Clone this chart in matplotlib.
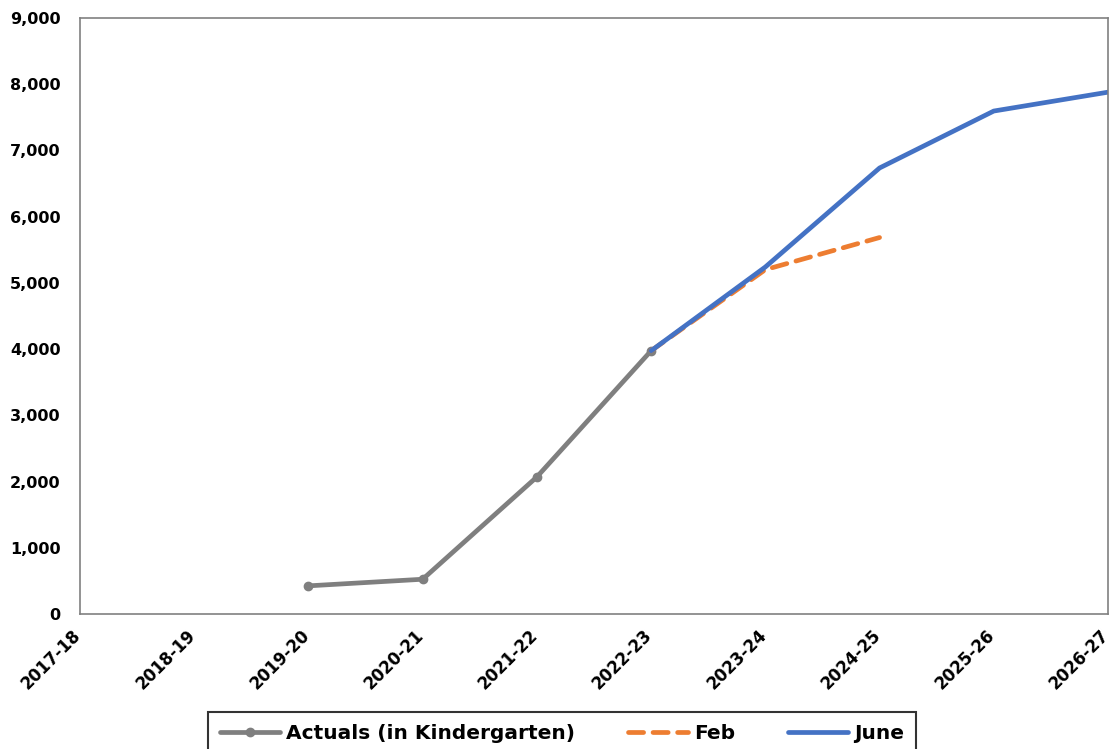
import matplotlib.pyplot as plt
import matplotlib.transforms as mtransforms
import numpy as np

# School years on the x axis
years = ["2017-18", "2018-19", "2019-20", "2020-21", "2021-22",
         "2022-23", "2023-24", "2024-25", "2025-26", "2026-27"]

# Series values (None = no data for that year)
actuals = [None, None, 425, 525, 2070, 3975, None, None, None, None]
feb = [None, None, None, None, None, 3975, 5200, 5685, None, None]
june = [None, None, None, None, None, 3975, 5240, 6735, 7595, 7880]


def to_arr(vals):
    return np.array([np.nan if v is None else v for v in vals], dtype=float)


x = np.arange(len(years))

fig = plt.figure(figsize=(11.14, 7.49), dpi=100)
ax = fig.add_axes([80 / 1114, 135 / 749, 1028 / 1114, 596 / 749])

ax.plot(x, to_arr(actuals), color="#7f7f7f", lw=3.4, marker="o", ms=6,
        label="Actuals (in Kindergarten)", solid_capstyle="round")
ax.plot(x, to_arr(feb), color="#ed7d31", lw=3.4, ls=(0, (3.2, 2)),
        label="Feb", dash_capstyle="round")
ax.plot(x, to_arr(june), color="#4472c4", lw=3.4, label="June",
        solid_capstyle="round")

ax.set_xlim(0, len(years) - 1)
ax.set_ylim(0, 9000)
ax.set_yticks(range(0, 9001, 1000))
ax.set_yticklabels([f"{v:,}" for v in range(0, 9001, 1000)],
                   fontsize=11.5, fontweight="bold")
ax.set_xticks(x)
ax.set_xticklabels(years, rotation=45, ha="right", va="top",
                   rotation_mode="anchor", fontsize=12, fontweight="bold")
ax.tick_params(axis="y", length=0, pad=14)
ax.tick_params(axis="x", length=0, pad=9)
shift = mtransforms.ScaledTranslation(-8 / 100, 0, fig.dpi_scale_trans)
for lbl in ax.get_xticklabels():
    lbl.set_transform(lbl.get_transform() + shift)
for s in ax.spines.values():
    s.set_color("#808080")
    s.set_linewidth(1.2)

leg = fig.legend(loc="upper center", bbox_to_anchor=(562 / 1114, 1 - 712 / 749),
                 ncol=3, frameon=True, fancybox=False, edgecolor="black",
                 prop={"weight": "bold", "size": 14.5}, handlelength=3.0,
                 handletextpad=0.3, columnspacing=2.6, borderpad=0.6,
                 borderaxespad=0)
leg.get_frame().set_linewidth(1.5)

plt.savefig("out.png", dpi=100)
